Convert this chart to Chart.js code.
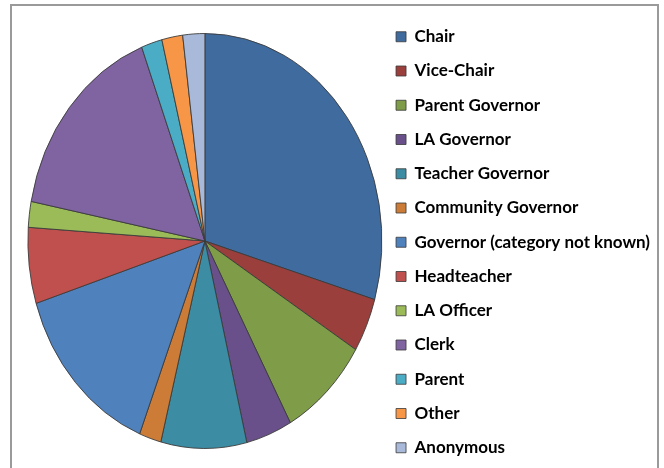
<!DOCTYPE html>
<html>
<head>
<meta charset="utf-8">
<script src="https://cdn.jsdelivr.net/npm/chart.js@4"></script>
<style>
  html, body { margin: 0; padding: 0; background: #fff; overflow: hidden; }
  #wrap { position: relative; width: 664px; height: 468px; }
  #frame { position: absolute; left: 10px; top: 4px; width: 645px; height: 480px; border: 2px solid #9a9a9a; }
  canvas { position: absolute; left: 0; top: 0; }
</style>
</head>
<body>
<div id="wrap">
  <div id="frame"></div>
  <canvas id="chart" width="664" height="468"></canvas>
</div>
<script>
// categories and share of responses (%)
const roles = [
    "Chair", "Vice-Chair", "Parent Governor", "LA Governor", "Teacher Governor",
    "Community Governor", "Governor (category not known)", "Headteacher",
    "LA Officer", "Clerk", "Parent", "Other", "Anonymous"
];
const shares = [29.5, 4.2, 8.2, 4.2, 7.8, 2.0, 14.1, 5.9, 2.0, 16.1, 1.9, 1.9, 2.0];

const sliceColours = [
    "#3f6b9e", "#9b3f3c", "#7f9c48", "#69508a", "#3c8ca3", "#cc7c37", "#4f81bd",
    "#c0504d", "#9bbb59", "#8064a2", "#4bacc6", "#f79646", "#a9b9d9"
];

// the original pie is drawn squashed (ellipse)
const PIE_RX = 177;
const PIE_RY = 207.5;
const PIE_NUDGE_Y = 1.5;

const ellipsePie = {
    id: "ellipsePie",
    beforeDatasetsDraw(chart) {
        const arc = chart.getDatasetMeta(0).data[0];
        const ctx = chart.ctx;
        ctx.save();
        ctx.translate(arc.x, arc.y + PIE_NUDGE_Y);
        ctx.scale(PIE_RX / arc.outerRadius, PIE_RY / arc.outerRadius);
        ctx.translate(-arc.x, -arc.y);
    },
    afterDatasetsDraw(chart) {
        chart.ctx.restore();
    }
};

new Chart(document.getElementById("chart").getContext("2d"), {
    type: "pie",
    data: {
        labels: roles,
        datasets: [{
            data: shares,
            backgroundColor: sliceColours,
            borderColor: "#3a3a3a",
            borderWidth: 0.8,
            clip: false
        }]
    },
    options: {
        responsive: false,
        animation: false,
        layout: {
            padding: { left: 31, right: 4, top: 11, bottom: -10 }
        },
        plugins: {
            tooltip: { enabled: false },
            legend: {
                position: "right",
                align: "start",
                labels: {
                    boxWidth: 10,
                    boxHeight: 10,
                    padding: 17.25,
                    color: "#000",
                    font: { family: "Lato", size: 17, weight: "bold" }
                }
            }
        }
    },
    plugins: [ellipsePie]
});
</script>
</body>
</html>
